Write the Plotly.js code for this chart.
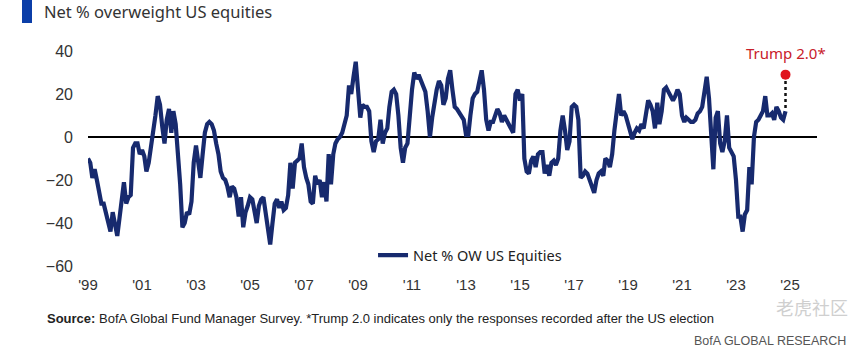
<!DOCTYPE html>
<html>
<head>
<meta charset="utf-8">
<script src="https://cdn.plot.ly/plotly-3.0.1.min.js"></script>
<style>
html,body{margin:0;padding:0;background:#fff;}
#chart{width:862px;height:357px;}
</style>
</head>
<body>
<div id="chart"></div>
<script>
// Monthly survey readings, Jan 1999 onward (net % overweight US equities)
const startMonth = "1999-01";
const netOW = [
  -10, -12, -19, -15, -20, -27, -31, -31, -35, -40,
  -44, -35, -40, -46, -38, -27, -21, -31, -28, -27,
  -5, -3, -3, -8, -6, -9, -16, -12, -5, 0,
  10, 19, 15, 5, -3, 8, 13, 2, 12, 6,
  -6, -22, -42, -40, -35, -36, -30, -12, -4, -14,
  -19, -8, 2, 6, 7, 6, 3, -3, -8, -16,
  -19, -20, -23, -28, -23, -24, -28, -37, -28, -42,
  -35, -32, -28, -29, -35, -40, -32, -29, -28, -35,
  -43, -50, -40, -31, -29, -33, -30, -34, -33, -27,
  -12, -24, -12, -11, -10, -3, -14, -19, -22, -30,
  -31, -18, -22, -20, -28, -21, -30, -8, -22, -8,
  -3, -1, 0, 2, 7, 10, 24, 20, 28, 35,
  22, 9, 15, 14, 14, 12, -2, -7, -2, -1,
  8, -3, 2, 4, 14, 21, 22, 20, 10, -5,
  -12, -5, -3, 10, 22, 30, 27, 29, 26, 24,
  21, 12, 0, 9, 17, 22, 26, 24, 15, 18,
  27, 31, 22, 14, 13, 11, 10, 8, 1, 1,
  10, 18, 20, 21, 26, 31, 22, 8, 3, 7,
  7, 10, 13, 11, 7, 10, 8, 7, 4, 2,
  20, 22, 17, 20, -10, -16, -17, -11, -9, -14,
  -8, -7, -7, -17, -13, -18, -12, -11, -13, -10,
  3, 10, 3, -6, -2, 14, 15, 14, 8, -19,
  -18, -16, -17, -20, -24, -26, -20, -17, -16, -18,
  -10, -11, -14, -8, 3, 12, 20, 10, 12, 10,
  6, 2, -1, 2, 4, 3, 6, 4, 10, 17,
  15, 12, 4, 16, 6, 12, 22, 23, 21, 19,
  17, 19, 22, 20, 10, 7, 9, 8, 7, 7,
  8, 11, 12, 14, 20, 28, 18, 1, -15, 9,
  12, -3, -7, -2, 10, -5, -7, -9, -20, -37,
  -37, -44, -36, -34, -14, -22, 0, 7, 8, 10,
  12, 19, 10, 10, 11, 8, 14, 12, 9, 8, 12
];
const trumpValue = 29;
const trumpLabel = "Trump 2.0*";
const seriesName = "Net % OW US Equities";
const tickYears = [1999, 2001, 2003, 2005, 2007, 2009, 2011, 2013, 2015, 2017, 2019, 2021, 2023, 2025];
const tickLabels = ["'99","'01","'03","'05","'07","'09","'11","'13","'15","'17","'19","'21","'23","'25"];
const yTicks = [40, 20, 0, -20, -40, -60];

function monthDate(start, i) {
  const [y, m] = start.split("-").map(Number);
  const t = (m - 1) + i;
  const yy = y + Math.floor(t / 12);
  const mm = (t % 12) + 1;
  return yy + "-" + String(mm).padStart(2, "0") + "-01";
}
const dates = netOW.map((_, i) => monthDate(startMonth, i));
const lastDate = dates[dates.length - 1];
const lastVal = netOW[netOW.length - 1];

const narrow = "'Liberation Sans Narrow', 'Arial Narrow', 'Liberation Sans', sans-serif";
const sans = "'Noto Sans', 'Open Sans', sans-serif";

const traces = [
  {
    x: dates, y: netOW, type: "scatter", mode: "lines", name: seriesName,
    line: {color: "#172a6e", width: 4.2}, showlegend: true
  },
  {
    x: [lastDate, lastDate], y: [lastVal + 1.5, trumpValue], type: "scatter", mode: "lines",
    line: {color: "#111", width: 2.5, dash: "dot"}, showlegend: false, hoverinfo: "skip"
  },
  {
    x: [lastDate], y: [trumpValue], type: "scatter", mode: "markers",
    marker: {color: "#e0141e", size: 10}, showlegend: false
  }
];

const layout = {
  width: 862, height: 357,
  margin: {l: 88, r: 45, t: 51, b: 91},
  paper_bgcolor: "#fff", plot_bgcolor: "#fff",
  title: {
    text: "Net % overweight US equities",
    x: 44/862, xanchor: "left", xref: "container",
    y: 1 - 12/357, yanchor: "middle", yref: "container",
    font: {family: sans, size: 16.5, color: "#333"}
  },
  xaxis: {
    type: "date",
    range: ["1999-01-01", "2026-01-01"],
    tickvals: tickYears.map(y => y + "-01-01"),
    ticktext: tickLabels,
    showgrid: false, zeroline: false, showline: false, ticks: "",
    tickfont: {family: narrow, size: 15, color: "#333"},
    ticklabelstandoff: 8
  },
  yaxis: {
    range: [-60, 40],
    tickvals: yTicks,
    showgrid: false, showline: false, ticks: "",
    zeroline: true, zerolinecolor: "#000", zerolinewidth: 2.5,
    tickfont: {family: narrow, size: 16, color: "#333"},
    ticklabelstandoff: 14
  },
  showlegend: true,
  legend: {
    x: 0.391, xanchor: "left", y: 0.05, yanchor: "middle",
    bgcolor: "rgba(0,0,0,0)", font: {family: sans, size: 14.5, color: "#222"}
  },
  shapes: [
    {type: "rect", xref: "paper", yref: "paper",
     x0: (22-88)/729, x1: (32-88)/729, y0: (266-23)/215, y1: (266+5)/215 + 0.02,
     fillcolor: "#0b3ea8", line: {width: 0}}
  ],
  annotations: [
    {xref: "x", yref: "y", x: lastDate, y: 39, text: trumpLabel, showarrow: false,
     xanchor: "center", yanchor: "middle",
     font: {family: sans, size: 15, color: "#c8202a"}},
    {xref: "paper", yref: "paper", x: (45-88)/729, y: (266-318)/215,
     xanchor: "left", yanchor: "middle", showarrow: false,
     text: "<b>Source:</b> BofA Global Fund Manager Survey. *Trump 2.0 indicates only the responses recorded after the US election",
     font: {family: narrow, size: 13, color: "#222"}},
    {xref: "paper", yref: "paper", x: (848-88)/729, y: (266-341)/215,
     xanchor: "right", yanchor: "middle", showarrow: false,
     text: "BofA GLOBAL RESEARCH",
     font: {family: narrow, size: 12.5, color: "#555"}},
    {xref: "paper", yref: "paper", x: (850-88)/729, y: (266-307)/215,
     xanchor: "right", yanchor: "middle", showarrow: false,
     text: "老虎社区",
     font: {family: "'Noto Sans CJK SC', sans-serif", size: 18, color: "#cfcfcf"}}
  ]
};

Plotly.newPlot("chart", traces, layout, {displayModeBar: false, staticPlot: true});
</script>
</body>
</html>
